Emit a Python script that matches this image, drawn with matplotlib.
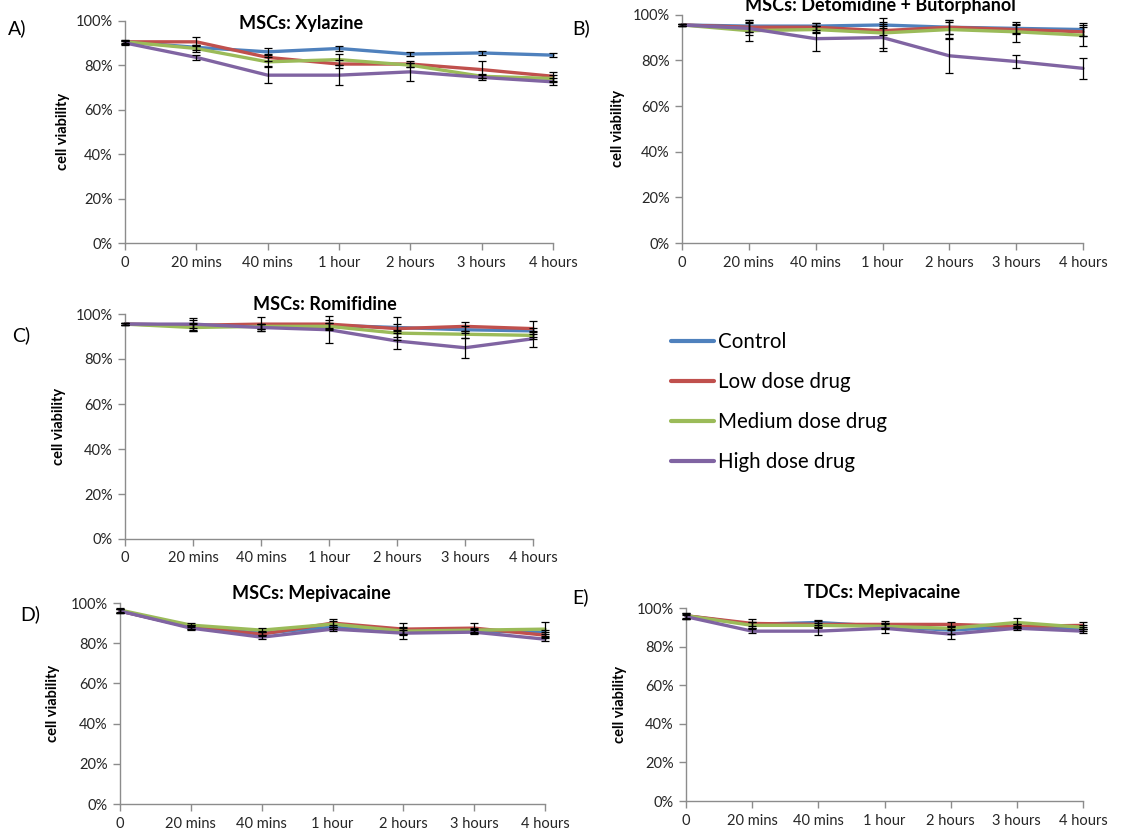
import matplotlib
matplotlib.use("Agg")
import matplotlib.pyplot as plt
from matplotlib.ticker import FuncFormatter

# ---------------- data ----------------
time_labels = ["0", "20 mins", "40 mins", "1 hour", "2 hours", "3 hours", "4 hours"]
series_names = ["Control", "Low dose drug", "Medium dose drug", "High dose drug"]
series_colors = ["#4F81BD", "#C0504D", "#9BBB59", "#8064A2"]
yticks_vals = [0, 20, 40, 60, 80, 100]

# A) MSCs: Xylazine
ctrl_A = [90.5, 88, 86, 87.5, 85, 85.5, 84.5]
low_A = [90.5, 90.5, 83.5, 80.5, 80.5, 78, 75]
med_A = [90.5, 87.5, 81.5, 82.5, 80, 75, 74]
high_A = [90, 83.5, 75.5, 75.5, 77, 74.5, 72.5]
ctrl_A_err = [1, 1, 1.5, 1, 1, 1, 1]
low_A_err = [1, 2, 1.5, 2, 1.5, 4, 2]
med_A_err = [0.5, 1.5, 2, 2.5, 1, 1, 1.5]
high_A_err = [1, 1, 3.5, 4.5, 4, 1, 1.5]

# B) MSCs: Detomidine + Butorphanol
ctrl_B = [95.5, 95, 95, 95.5, 94.5, 94, 93.5]
low_B = [95.5, 94.5, 94.5, 93, 94.5, 93.5, 92.5]
med_B = [95.5, 93, 93.5, 92, 93.5, 92.5, 91]
high_B = [95.5, 94, 89.5, 90, 82, 79.5, 76.5]
ctrl_B_err = [0.5, 2.5, 1.5, 1.5, 3, 2, 3]
low_B_err = [0.5, 2, 2, 2, 3, 2, 2]
med_B_err = [0.5, 4.5, 1.5, 6.5, 3.5, 4.5, 4.5]
high_B_err = [0.5, 3, 5.5, 6, 7.5, 3, 4.5]

# C) MSCs: Romifidine
ctrl_C = [95.5, 95, 94.5, 95, 94, 93, 92.5]
low_C = [95.5, 95, 95.5, 95.5, 93.5, 94.5, 93.5]
med_C = [95.5, 94, 94.5, 94.5, 91.5, 91, 90.5]
high_C = [95.5, 95.5, 94, 93, 88, 85, 89]
ctrl_C_err = [0.5, 1, 1, 1, 1.5, 1.5, 1.5]
low_C_err = [0.5, 2.5, 3, 2, 5, 2, 3.5]
med_C_err = [0.5, 1.5, 1, 1.5, 1.5, 1.5, 1.5]
high_C_err = [0.5, 2.5, 1.5, 6, 3.5, 4.5, 3.5]

# D) MSCs: Mepivacaine
ctrl_D = [96, 88, 85, 88, 85.5, 86, 85.5]
low_D = [96, 88, 84.5, 90, 87, 87.5, 84]
med_D = [96.5, 89, 86.5, 89.5, 86, 86.5, 87]
high_D = [96, 87.5, 83, 87, 85, 85.5, 82]
ctrl_D_err = [1, 1, 1, 1, 1, 1, 1]
low_D_err = [1, 1, 1, 2, 3, 2.5, 1.5]
med_D_err = [1, 1, 1, 1.5, 1.5, 1, 3.5]
high_D_err = [1, 1, 1, 1, 3, 1, 1]

# E) TDCs: Mepivacaine
ctrl_E = [96, 91.5, 92.5, 90.5, 88.5, 90.5, 89]
low_E = [96, 92, 91.5, 91.5, 91.5, 90.5, 91]
med_E = [96, 91, 91, 90.5, 89.5, 92.5, 90]
high_E = [95.5, 88, 88, 89.5, 86.5, 89.5, 88]
ctrl_E_err = [1.5, 1, 1.5, 1, 2, 1, 1]
low_E_err = [1.5, 2.5, 2, 2, 1.5, 1, 2]
med_E_err = [1, 1.5, 1, 1.5, 1, 2.5, 1]
high_E_err = [1, 1, 2, 2.5, 2.5, 1, 1]

panel_titles = ["MSCs: Xylazine", "MSCs: Detomidine + Butorphanol", "MSCs: Romifidine",
                "MSCs: Mepivacaine", "TDCs: Mepivacaine"]
panel_letters = ["A)", "B)", "C)", "D)", "E)"]

# ---------------- figure ----------------
W, H = 1138, 838
plt.rcParams['font.family'] = ['Lato', 'DejaVu Sans']
fig = plt.figure(figsize=(W / 100, H / 100), dpi=100)

def px_axes(left, right, top, bottom):
    return fig.add_axes([left / W, 1 - bottom / H, (right - left) / W, (bottom - top) / H])

axes_px = [
    (125, 553, 20.7, 243),
    (682, 1083, 14.7, 243),
    (125, 533, 314, 539),
    (120, 545, 603, 804),
    (686, 1083, 608, 801),
]
title_px = [(301, 23), (880, 5), (325, 305), (311, 593), (882, 592)]
letter_px = [(8, 28), (572, 28), (12, 335), (20, 614), (572, 597)]
ylab_px = [70, 625, 66, 60, 627]

panel_data = [
    ([ctrl_A, low_A, med_A, high_A], [ctrl_A_err, low_A_err, med_A_err, high_A_err]),
    ([ctrl_B, low_B, med_B, high_B], [ctrl_B_err, low_B_err, med_B_err, high_B_err]),
    ([ctrl_C, low_C, med_C, high_C], [ctrl_C_err, low_C_err, med_C_err, high_C_err]),
    ([ctrl_D, low_D, med_D, high_D], [ctrl_D_err, low_D_err, med_D_err, high_D_err]),
    ([ctrl_E, low_E, med_E, high_E], [ctrl_E_err, low_E_err, med_E_err, high_E_err]),
]

axis_col = "#8C8C8C"
text_col = "#262626"
x = list(range(len(time_labels)))
handles = []

for i, (pos, (vals, errs)) in enumerate(zip(axes_px, panel_data)):
    ax = px_axes(*pos)
    for s, (v, e) in enumerate(zip(vals, errs)):
        ln, = ax.plot(x, v, color=series_colors[s], lw=2.4, solid_capstyle='round',
                      zorder=2 + s, label=series_names[s], clip_on=False)
        ax.errorbar(x, v, yerr=e, fmt='none', ecolor='black', elinewidth=0.9,
                    capsize=2.6, capthick=0.9, zorder=10, clip_on=False)
        if i == 0:
            handles.append(ln)
    ax.set_xlim(0, 6)
    ax.set_ylim(0, 100)
    ax.set_xticks(x)
    ax.set_xticklabels(time_labels)
    ax.set_yticks(yticks_vals)
    ax.yaxis.set_major_formatter(FuncFormatter(lambda v, p: f"{int(v)}%"))
    for sp in ["top", "right"]:
        ax.spines[sp].set_visible(False)
    for sp in ["left", "bottom"]:
        ax.spines[sp].set_color(axis_col)
        ax.spines[sp].set_linewidth(1.0)
    ax.tick_params(axis='both', direction='out', length=5, width=1.0, color=axis_col,
                   labelsize=10.5, labelcolor=text_col, pad=4)
    ax.set_ylabel("cell viability", fontsize=10.5, fontweight='bold', color='black')
    ax.yaxis.set_label_coords((ylab_px[i] - pos[0]) / (pos[1] - pos[0]), 0.5)
    ax.set_facecolor('none')
    tx, ty = title_px[i]
    fig.text(tx / W, 1 - ty / H, panel_titles[i], ha='center', va='center',
             fontsize=13, fontweight='bold', color='black')
    lx, ly = letter_px[i]
    fig.text(lx / W, 1 - ly / H, panel_letters[i], ha='left', va='center',
             fontsize=14, color='black')

fig.legend(handles, series_names, loc='upper left',
           bbox_to_anchor=(671 / W, 1 - 332 / H), frameon=False,
           fontsize=14.8, handlelength=2.1, handletextpad=0.2,
           labelspacing=0.98, borderaxespad=0, borderpad=0)
for lh in fig.legends[0].get_lines():
    lh.set_linewidth(3)

fig.savefig("out.png", dpi=100)
